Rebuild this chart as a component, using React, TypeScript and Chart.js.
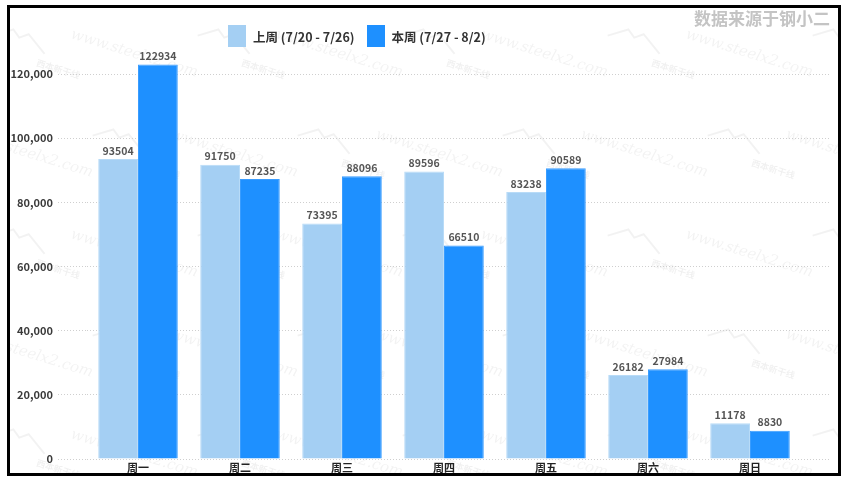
import React, { useEffect, useRef } from "react";
import { Chart, registerables } from "chart.js";

Chart.register(...registerables);

const categories = ["周一", "周二", "周三", "周四", "周五", "周六", "周日"];
const lastWeekLabel = "上周 (7/20 - 7/26)";
const thisWeekLabel = "本周 (7/27 - 8/2)";
const lastWeek = [93504, 91750, 73395, 89596, 83238, 26182, 11178];
const thisWeek = [122934, 87235, 88096, 66510, 90589, 27984, 8830];
const yMax = 120000;
const yStep = 20000;
const sourceText = "数据来源于钢小二";

const LIGHT = "#a4cff3";
const DARK = "#1e90ff";
const GRID = "#cfcfcf";
const FONT = "'Noto Sans CJK SC', 'Noto Sans', sans-serif";

const valueLabels = {
  id: "valueLabels",
  afterDatasetsDraw(chart: any) {
    const ctx = chart.ctx;
    ctx.save();
    ctx.font = `bold 10.5px ${FONT}`;
    ctx.fillStyle = "#555";
    ctx.textAlign = "center";
    ctx.textBaseline = "bottom";
    chart.data.datasets.forEach((ds: any, i: number) => {
      const meta = chart.getDatasetMeta(i);
      meta.data.forEach((el: any, j: number) => {
        ctx.fillText(String(ds.data[j]), el.x, el.y - 3);
      });
    });
    ctx.restore();
  },
};

const watermark = {
  id: "watermark",
  beforeDraw(chart: any) {
    const ctx = chart.ctx;
    const w = chart.width;
    const h = chart.height;
    ctx.save();
    for (let row = 0; row < 6; row++) {
      for (let col = -1; col < 6; col++) {
        const x = col * 205 + (row % 2) * 100 + 60;
        const y = row * 100 + 30;
        if (x > w + 100 || y > h + 50) continue;
        ctx.save();
        ctx.translate(x, y);
        ctx.rotate(0.3);
        ctx.font = `italic 15px 'DejaVu Serif', serif`;
        ctx.fillStyle = "rgba(0,0,0,0.05)";
        ctx.fillText("www.steelx2.com", 0, 0);
        ctx.restore();
        ctx.save();
        ctx.translate(x + 130, y - 10);
        ctx.rotate(0.3);
        ctx.strokeStyle = "rgba(0,0,0,0.05)";
        ctx.lineWidth = 2;
        ctx.beginPath();
        ctx.moveTo(0, 8);
        ctx.lineTo(18, -4);
        ctx.lineTo(26, 2);
        ctx.lineTo(34, -4);
        ctx.lineTo(55, 10);
        ctx.stroke();
        ctx.font = `bold 9px ${FONT}`;
        ctx.fillStyle = "rgba(0,0,0,0.06)";
        ctx.fillText("西本新干线", 50, 24);
        ctx.restore();
      }
    }
    ctx.restore();
  },
};

export default function App() {
  const ref = useRef<HTMLCanvasElement>(null);
  useEffect(() => {
    if (!ref.current) return;
    const chart = new Chart(ref.current, {
      type: "bar",
      data: {
        labels: categories,
        datasets: [
          {
            label: lastWeekLabel,
            data: lastWeek,
            backgroundColor: LIGHT,
            borderColor: "#b8dbf7",
            borderWidth: 1,
            barPercentage: 1,
            categoryPercentage: 0.78,
            clip: false,
          },
          {
            label: thisWeekLabel,
            data: thisWeek,
            backgroundColor: DARK,
            borderColor: "#3a9dff",
            borderWidth: 1,
            barPercentage: 1,
            categoryPercentage: 0.78,
            clip: false,
          },
        ],
      },
      options: {
        animation: false,
        responsive: false,
        devicePixelRatio: 1,
        layout: { padding: { top: 66, right: 7, left: 0, bottom: 0 } },
        plugins: {
          legend: { display: false },
          tooltip: { enabled: false },
        },
        scales: {
          x: {
            grid: { display: false, drawTicks: false, tickLength: 0 },
            border: { display: false },
            ticks: {
              font: { family: FONT, size: 11, weight: "bold" },
              color: "#222",
              padding: 2,
            },
            afterFit: (s: any) => {
              s.height = 14;
            },
          },
          y: {
            min: 0,
            max: yMax,
            ticks: {
              stepSize: yStep,
              autoSkip: false,
              font: { family: FONT, size: 11, weight: "bold" },
              color: "#3a3a3a",
              padding: 5,
            },
            grid: {
              color: GRID,
              tickColor: GRID,
              tickLength: 29,
              tickBorderDash: [1, 2],
            },
            border: { display: false, dash: [1, 2] },
            afterFit: (s: any) => {
              s.width = 77;
            },
          },
          y2: {
            position: "right",
            min: 0,
            max: yMax,
            ticks: { display: false, stepSize: yStep, autoSkip: false },
            grid: {
              drawOnChartArea: false,
              color: GRID,
              tickColor: GRID,
              tickLength: 30,
              tickBorderDash: [1, 2],
            },
            border: { display: false },
            afterFit: (s: any) => {
              s.width = 30;
            },
          },
        },
      },
      plugins: [watermark, valueLabels],
    } as any);
    return () => chart.destroy();
  }, []);

  const legendItem = (color: string, text: string) => (
    <div style={{ display: "flex", alignItems: "center" }}>
      <div style={{ width: 18, height: 22, background: color }} />
      <span style={{ marginLeft: 7, fontWeight: "bold", fontSize: 12.5, color: "#333", fontFamily: FONT, whiteSpace: "nowrap" }}>
        {text}
      </span>
    </div>
  );

  return (
    <div
      style={{
        position: "absolute",
        left: 7,
        top: 5,
        width: 834,
        height: 471,
        border: "3px solid #000",
        boxSizing: "border-box",
        background: "#fff",
      }}
    >
      <canvas ref={ref} width={828} height={465} style={{ position: "absolute", left: 0, top: 0 }} />
      <div
        style={{
          position: "absolute",
          left: 218,
          top: 17,
          height: 22,
          display: "flex",
          alignItems: "center",
          gap: 12,
        }}
      >
        {legendItem(LIGHT, lastWeekLabel)}
        {legendItem(DARK, thisWeekLabel)}
      </div>
      <div
        style={{
          position: "absolute",
          right: 8,
          top: 0,
          lineHeight: "20px",
          fontSize: 17,
          fontWeight: "bold",
          color: "#c4c4c4",
          fontFamily: FONT,
          whiteSpace: "nowrap",
        }}
      >
        {sourceText}
      </div>
    </div>
  );
}
